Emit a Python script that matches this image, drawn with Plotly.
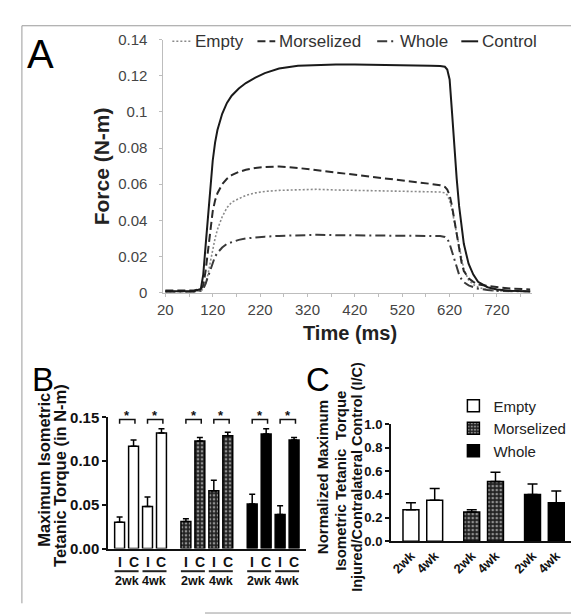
import plotly.graph_objects as go

W, H = 579, 614
def X(px): return px / W
def Y(py): return 1 - py / H

FONT = "Liberation Sans"

# ---------------- Panel A data ----------------
time_ms = [20, 40, 60, 80, 95, 100, 105, 110, 115, 120, 125, 130,
           140, 150, 160, 175, 190, 210, 230, 260,
           300, 340, 380, 420, 460, 500, 540, 580,
           600, 610, 615, 620, 625, 630, 635, 640, 645, 650,
           660, 670, 680, 700, 720, 750, 790]
force_control = [0.0008, 0.0008, 0.0008, 0.0008, 0.002, 0.010, 0.026, 0.042, 0.060, 0.073, 0.083, 0.090,
                 0.099, 0.105, 0.109, 0.113, 0.116, 0.119, 0.1215, 0.124,
                 0.1255, 0.126, 0.1262, 0.1263, 0.1262, 0.126, 0.1258, 0.1256,
                 0.1254, 0.125, 0.1235, 0.118, 0.100, 0.080, 0.063, 0.048, 0.036, 0.027,
                 0.016, 0.010, 0.006, 0.003, 0.0017, 0.001, 0.0006]
force_morselized = [0.0012, 0.0012, 0.0012, 0.0012, 0.002, 0.004, 0.012, 0.024, 0.036, 0.045, 0.051, 0.055,
                    0.060, 0.063, 0.065, 0.0668, 0.068, 0.069, 0.0695, 0.0698,
                    0.069, 0.0678, 0.0664, 0.065, 0.0638, 0.0626, 0.0615, 0.0602,
                    0.0594, 0.0585, 0.057, 0.054, 0.048, 0.040, 0.032, 0.024, 0.017, 0.012,
                    0.008, 0.006, 0.0045, 0.0037, 0.003, 0.0022, 0.0018]
force_empty = [0.0005, 0.0005, 0.0005, 0.0005, 0.001, 0.002, 0.005, 0.010, 0.017, 0.024, 0.030, 0.035,
               0.042, 0.047, 0.050, 0.052, 0.0538, 0.0552, 0.056, 0.0566,
               0.057, 0.0572, 0.0568, 0.0566, 0.0565, 0.0564, 0.0563, 0.056,
               0.0557, 0.0552, 0.054, 0.051, 0.046, 0.039, 0.032, 0.025, 0.018, 0.013,
               0.007, 0.0045, 0.003, 0.0015, 0.001, 0.0008, 0.0006]
force_whole = [0.0005, 0.0005, 0.0005, 0.0005, 0.001, 0.002, 0.005, 0.009, 0.013, 0.017, 0.020, 0.022,
               0.025, 0.027, 0.028, 0.0292, 0.030, 0.0306, 0.031, 0.0314,
               0.0318, 0.032, 0.0318, 0.0317, 0.0317, 0.0318, 0.0318, 0.0316,
               0.0313, 0.0308, 0.030, 0.027, 0.023, 0.018, 0.014, 0.010, 0.0075, 0.0058,
               0.004, 0.003, 0.0022, 0.0015, 0.001, 0.0008, 0.0007]
a_xticks = [20, 120, 220, 320, 420, 520, 620, 720]
a_yticks = [0, 0.02, 0.04, 0.06, 0.08, 0.10, 0.12, 0.14]
a_ytext = ["0", "0.02", "0.04", "0.06", "0.08", "0.1", "0.12", "0.14"]

# ---------------- Panel B data ----------------
groups = ["Empty", "Morselized", "Whole"]
b_bar_labels = ["I", "C", "I", "C"]
weeks = ["2wk", "4wk"]
b_empty = [0.030, 0.117, 0.048, 0.132]
b_empty_err = [0.006, 0.007, 0.011, 0.005]
b_morsel = [0.031, 0.123, 0.066, 0.129]
b_morsel_err = [0.003, 0.004, 0.012, 0.004]
b_whole = [0.051, 0.131, 0.039, 0.124]
b_whole_err = [0.011, 0.006, 0.010, 0.003]
b_yticks = [0, 0.05, 0.10, 0.15]

# ---------------- Panel C data ----------------
c_empty = [0.27, 0.35]
c_empty_err = [0.06, 0.10]
c_morsel = [0.25, 0.51]
c_morsel_err = [0.02, 0.08]
c_whole = [0.40, 0.33]
c_whole_err = [0.09, 0.10]
c_yticks = [0, 0.2, 0.4, 0.6, 0.8, 1.0]

# ---------------- styles ----------------
LINE_BLK = dict(color="black", width=1.5)
bar_styles = [
    dict(color="white", line=LINE_BLK),
    dict(color="#222222", line=LINE_BLK,
         pattern=dict(shape=".", fgcolor="white", bgcolor="#222222", size=4, solidity=0.35)),
    dict(color="black", line=LINE_BLK),
]

fig = go.Figure()

# Panel A lines
a_series = [
    ("Empty", force_empty, dict(color="#8a8a8a", width=1.6, dash="2px,2px")),
    ("Morselized", force_morselized, dict(color="#2a2a2a", width=2, dash="8px,4px")),
    ("Whole", force_whole, dict(color="#3a3a3a", width=2, dash="10px,4px,2px,4px")),
    ("Control", force_control, dict(color="#1a1a1a", width=2)),
]
for name, ys, ln in a_series:
    fig.add_trace(go.Scatter(x=time_ms, y=ys, mode="lines", name=name, line=ln,
                             xaxis="x", yaxis="y", showlegend=False))

# Panel B bars
b_vals = [(b_empty, b_empty_err), (b_morsel, b_morsel_err), (b_whole, b_whole_err)]
B_GROUP_STEP = 4.75
b_pos = []
for g, (vals, errs) in enumerate(b_vals):
    xs = [g * B_GROUP_STEP + k for k in range(len(vals))]
    b_pos.append(xs)
    fig.add_trace(go.Bar(x=xs, y=vals, width=0.71, marker=bar_styles[g], name=groups[g],
                         xaxis="x2", yaxis="y2", showlegend=False,
                         error_y=dict(type="data", array=errs, arrayminus=[0] * len(errs),
                                      symmetric=False, color="black", thickness=1.5, width=3)))

# Panel C bars
c_vals = [(c_empty, c_empty_err), (c_morsel, c_morsel_err), (c_whole, c_whole_err)]
C_GROUP_STEP = 2.56
c_pos, c_text = [], []
for g, (vals, errs) in enumerate(c_vals):
    xs = [g * C_GROUP_STEP + k for k in range(len(vals))]
    c_pos += xs
    c_text += ["<b>%s</b>" % w for w in weeks]
    fig.add_trace(go.Bar(x=xs, y=vals, width=0.67, marker=bar_styles[g], name=groups[g],
                         xaxis="x3", yaxis="y3", showlegend=True,
                         error_y=dict(type="data", array=errs, arrayminus=[0] * len(errs),
                                      symmetric=False, color="black", thickness=1.5, width=5)))

annotations = []
shapes = []

# Panel A legend (manual, compact)
a_leg = [("Empty", 160, 179, 181), ("Morselized", 246, 264, 266),
         ("Whole", 367, 386, 388), ("Control", 452, 469, 471)]
for (name, ys, ln), (lab, s0, s1, t0) in zip(a_series, a_leg):
    shapes.append(dict(type="line", xref="paper", yref="paper", x0=X(s0), x1=X(s1),
                       y0=Y(25), y1=Y(25), line=dict(color=ln["color"], width=ln["width"],
                                                     dash=ln.get("dash", "solid"))))
    annotations.append(dict(text=lab, xref="paper", yref="paper", x=X(t0), y=Y(25),
                            xanchor="left", yanchor="middle", showarrow=False,
                            font=dict(family=FONT, size=17, color="#333333")))

# Panel labels
for lab, cx, cy, sz in [("A", 26.5, 38, 40), ("B", 29.5, 373, 33), ("C", 307.5, 373, 33)]:
    annotations.append(dict(text=lab, xref="paper", yref="paper", x=X(cx), y=Y(cy),
                            xanchor="center", yanchor="middle", showarrow=False,
                            font=dict(family=FONT, size=sz, color="black")))

# Axis titles
def rot(text, cx, cy, size, color="#111111"):
    annotations.append(dict(text="<b>%s</b>" % text, xref="paper", yref="paper", x=X(cx), y=Y(cy),
                            xanchor="center", yanchor="middle", textangle=-90, showarrow=False,
                            font=dict(family=FONT, size=size, color=color)))

rot("Force (N-m)", 88.5, 154, 21, "#222222")
annotations.append(dict(text="<b>Time (ms)</b>", xref="paper", yref="paper", x=X(340), y=Y(325),
                        xanchor="center", yanchor="middle", showarrow=False,
                        font=dict(family=FONT, size=20, color="#222222")))
rot("Maximum Isometric", 30, 466, 16.5)
rot("Tetanic Torque (in N-m)", 46.5, 472, 16.5)
rot("Normalized Maximum", 312.5, 473, 15)
rot("Isometric Tetanic  Torque", 330.5, 477, 15)
rot("Injured/Contralateral Control (I/C)", 346.5, 473, 14.5)

# Panel B: category labels, underlines, significance brackets
B_Y0, B_Y1 = 546.7, 411.7
def yb(v):
    return Y(B_Y0 - v / 0.15 * (B_Y0 - B_Y1))

for g in range(3):
    xs = b_pos[g]
    for k, lab in enumerate(b_bar_labels):
        annotations.append(dict(text="<b>%s</b>" % lab, xref="x2", yref="paper", x=xs[k], y=Y(561),
                                xanchor="center", yanchor="middle", showarrow=False,
                                font=dict(family=FONT, size=14, color="#111111")))
    for p, wk in enumerate(weeks):
        xi, xc = xs[2 * p], xs[2 * p + 1]
        shapes.append(dict(type="line", xref="x2", yref="paper", x0=xi - 0.36, x1=xc + 0.36,
                           y0=Y(570), y1=Y(570), line=dict(color="#222222", width=2)))
        annotations.append(dict(text="<b>%s</b>" % wk, xref="x2", yref="paper", x=(xi + xc) / 2,
                                y=Y(580), xanchor="center", yanchor="middle", showarrow=False,
                                font=dict(family=FONT, size=12.5, color="#111111")))
        shapes.append(dict(type="path", xref="x2", yref="paper",
                           path="M%f,%f L%f,%f L%f,%f L%f,%f" % (xi, yb(0.1425), xi, yb(0.1475),
                                                                 xc + 0.1, yb(0.1475), xc + 0.1, yb(0.1425)),
                           line=dict(color="#111111", width=1.5)))
        annotations.append(dict(text="<b>*</b>", xref="x2", yref="paper", x=(xi + xc + 0.1) / 2,
                                y=yb(0.1525), xanchor="center", yanchor="middle", showarrow=False,
                                font=dict(family=FONT, size=13, color="#111111")))

# Page frame lines
frame = dict(color="#9a9a9a", width=1)
shapes.append(dict(type="line", xref="paper", yref="paper", x0=X(8), x1=X(570), y0=Y(9), y1=Y(9), line=frame))
shapes.append(dict(type="line", xref="paper", yref="paper", x0=X(8), x1=X(8), y0=Y(9), y1=Y(603), line=frame))
shapes.append(dict(type="line", xref="paper", yref="paper", x0=X(193), x1=X(579), y0=Y(613), y1=Y(613), line=frame))

grey_axis = dict(showline=True, linecolor="#bdbdbd", linewidth=1, ticks="outside", ticklen=3,
                 tickcolor="#bdbdbd", showgrid=False, zeroline=False,
                 tickfont=dict(family=FONT, size=15, color="#444444"))
blk_axis = dict(showline=True, linecolor="#111111", linewidth=1.5, showgrid=False, zeroline=False)

fig.update_layout(
    width=W, height=H, margin=dict(l=0, r=0, t=0, b=0),
    paper_bgcolor="white", plot_bgcolor="white",
    font=dict(family=FONT, color="#111111"),
    barmode="overlay",
    xaxis=dict(domain=[X(151), X(523)], range=[16, 793], anchor="y",
               tickvals=list(range(20, 771, 50)),
               ticktext=[str(v) if v in a_xticks else "" for v in range(20, 771, 50)],
               ticklabelstandoff=0, **grey_axis),
    yaxis=dict(domain=[Y(283.5), Y(23.3)], range=[0, 0.14], anchor="x",
               tickvals=a_yticks, ticktext=a_ytext, ticklabelstandoff=9, **grey_axis),
    xaxis2=dict(domain=[X(95), X(295)], range=[-0.83, 13.35], anchor="y2",
                showticklabels=False, ticks="", **blk_axis),
    yaxis2=dict(domain=[Y(B_Y0), Y(B_Y1)], range=[0, 0.15], anchor="x2",
                tickvals=b_yticks, tickformat=".2f", ticks="outside", ticklen=4, tickwidth=1.5,
                tickcolor="#111111",
                tickfont=dict(family=FONT, size=15, color="#111111", weight="bold"), **blk_axis),
    xaxis3=dict(domain=[X(380.7), X(565)], range=[-0.85, 6.83], anchor="y3",
                tickvals=c_pos, ticktext=c_text, tickangle=-45, ticks="",
                tickfont=dict(family=FONT, size=13, color="#111111"), **blk_axis),
    yaxis3=dict(domain=[Y(539.3), Y(418.7)], range=[0, 1.0], anchor="x3",
                tickvals=c_yticks, tickformat=".1f", ticks="outside", ticklen=4, tickwidth=1.5,
                tickcolor="#111111",
                tickfont=dict(family=FONT, size=13, color="#111111", weight="bold"), **blk_axis),
    legend=dict(x=X(444), y=Y(383), xanchor="left", yanchor="top",
                font=dict(family=FONT, size=15, color="#222222"),
                bgcolor="rgba(0,0,0,0)", tracegroupgap=0, itemwidth=30, traceorder="normal"),
    annotations=annotations,
    shapes=shapes,
)

fig.write_html("out.html", config={"displayModeBar": False})
